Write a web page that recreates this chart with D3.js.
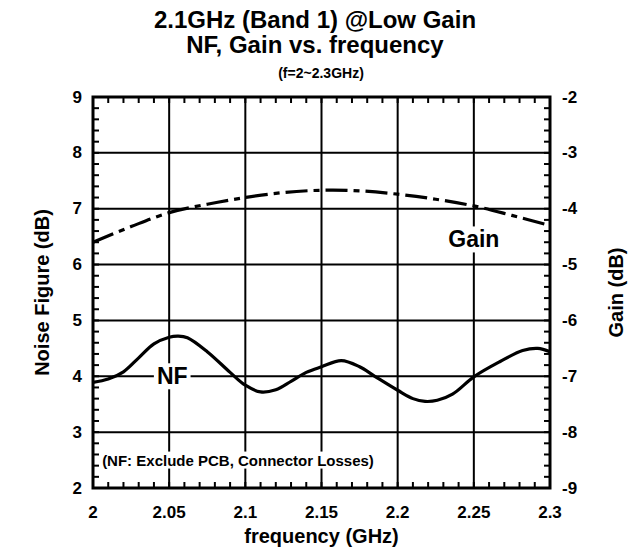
<!DOCTYPE html>
<html>
<head>
<meta charset="utf-8">
<script src="https://cdn.jsdelivr.net/npm/d3@7"></script>
<style>
  body { margin: 0; background: #fff; }
  text { font-family: "Liberation Sans", Arial, sans-serif; font-weight: bold; fill: #000; }
</style>
</head>
<body>
<div id="chart"></div>
<script>
// NF curve (left axis, dB)
const nfFreq = [2.000, 2.010, 2.020, 2.030, 2.040, 2.050, 2.056, 2.062, 2.075, 2.090,
                2.100, 2.110, 2.120, 2.130, 2.140, 2.150, 2.163, 2.175, 2.185, 2.200,
                2.210, 2.218, 2.226, 2.236, 2.250, 2.267, 2.282, 2.292, 2.300];
const nfVal = [3.89, 3.95, 4.08, 4.33, 4.58, 4.70, 4.72, 4.69, 4.44, 4.07,
               3.84, 3.72, 3.76, 3.91, 4.07, 4.17, 4.28, 4.17, 4.00, 3.75,
               3.60, 3.55, 3.57, 3.68, 3.99, 4.26, 4.46, 4.50, 4.44];

// Gain curve (right axis, dB)
const gainFreq = [2.000, 2.025, 2.050, 2.075, 2.100, 2.125, 2.150, 2.175, 2.200, 2.225, 2.250, 2.275, 2.300];
const gainVal = [-4.60, -4.32, -4.07, -3.92, -3.80, -3.71, -3.67, -3.68, -3.74, -3.83, -3.95, -4.12, -4.30];

const xTicks = [2, 2.05, 2.1, 2.15, 2.2, 2.25, 2.3];
const nfTicks = [2, 3, 4, 5, 6, 7, 8, 9];
const gainTicks = [-9, -8, -7, -6, -5, -4, -3, -2];

const width = 630, height = 555;
const margin = { top: 97, right: 80, bottom: 67, left: 93 };

const svg = d3.select("#chart").append("svg")
  .attr("width", width)
  .attr("height", height);

const x = d3.scaleLinear().domain([2, 2.3]).range([margin.left, width - margin.right]);
const yL = d3.scaleLinear().domain([2, 9]).range([height - margin.bottom, margin.top]);
const yR = d3.scaleLinear().domain([-9, -2]).range([height - margin.bottom, margin.top]);

const x0 = x.range()[0], x1 = x.range()[1];
const yb = yL.range()[0], yt = yL.range()[1];

// grid
const grid = svg.append("g").attr("stroke", "#000").attr("stroke-width", 2);
grid.selectAll(".vg").data(xTicks.slice(1, -1)).enter().append("line")
  .attr("x1", d => x(d)).attr("x2", d => x(d))
  .attr("y1", yt).attr("y2", yb);
grid.selectAll(".hg").data(nfTicks.slice(1, -1)).enter().append("line")
  .attr("x1", x0).attr("x2", x1)
  .attr("y1", d => yL(d)).attr("y2", d => yL(d));

// minor ticks, inside the frame
const minorX = d3.range(0, 31).map(i => 2 + i * 0.01);
const minorY = d3.range(0, 36).map(i => 2 + i * 0.2);
const ticks = svg.append("g").attr("stroke", "#000").attr("stroke-width", 2);
ticks.selectAll(".tb").data(minorX).enter().append("line")
  .attr("x1", d => x(d)).attr("x2", d => x(d)).attr("y1", yb).attr("y2", yb - 6);
ticks.selectAll(".tt").data(minorX).enter().append("line")
  .attr("x1", d => x(d)).attr("x2", d => x(d)).attr("y1", yt).attr("y2", yt + 6);
ticks.selectAll(".tl").data(minorY).enter().append("line")
  .attr("x1", x0).attr("x2", x0 + 6).attr("y1", d => yL(d)).attr("y2", d => yL(d));
ticks.selectAll(".tr").data(minorY).enter().append("line")
  .attr("x1", x1).attr("x2", x1 - 6).attr("y1", d => yL(d)).attr("y2", d => yL(d));

// curves
const nfLine = d3.line().x((d, i) => x(nfFreq[i])).y(d => yL(d)).curve(d3.curveCatmullRom);
svg.append("path").datum(nfVal)
  .attr("d", nfLine)
  .attr("fill", "none").attr("stroke", "#000").attr("stroke-width", 3.2);

const gainLine = d3.line().x((d, i) => x(gainFreq[i])).y(d => yR(d)).curve(d3.curveCatmullRom);
svg.append("path").datum(gainVal)
  .attr("d", gainLine)
  .attr("fill", "none").attr("stroke", "#000").attr("stroke-width", 3.2)
  .attr("stroke-dasharray", "22,6,6,6");

// frame
svg.append("rect")
  .attr("x", x0).attr("y", yt).attr("width", x1 - x0).attr("height", yb - yt)
  .attr("fill", "none").attr("stroke", "#000").attr("stroke-width", 3);

// in-plot labels with white boxes
function boxLabel(tx, ty, str, size, anchor) {
  const t = svg.append("text").attr("x", tx).attr("y", ty)
    .attr("text-anchor", anchor).attr("dominant-baseline", "central")
    .style("font-size", size + "px").text(str);
  const b = t.node().getBBox();
  svg.insert("rect", "text:last-of-type")
    .attr("x", b.x - 3).attr("y", b.y).attr("width", b.width + 6).attr("height", b.height)
    .attr("fill", "#fff");
  t.raise();
}
boxLabel(x(2.25), yR(-4.55), "Gain", 23, "middle");
boxLabel(x(2.052), yL(4.0), "NF", 23, "middle");
boxLabel(x(2.006), yL(2.5), "(NF: Exclude PCB, Connector Losses)", 15, "start");

// tick labels
svg.selectAll(".xl").data(xTicks).enter().append("text")
  .attr("x", d => x(d)).attr("y", yb + 30)
  .attr("text-anchor", "middle").style("font-size", "17px")
  .text(d => d);
svg.selectAll(".yl").data(nfTicks).enter().append("text")
  .attr("x", x0 - 11).attr("y", d => yL(d)).attr("dominant-baseline", "central")
  .attr("text-anchor", "end").style("font-size", "17px")
  .text(d => d);
svg.selectAll(".yr").data(gainTicks).enter().append("text")
  .attr("x", x1 + 12).attr("y", d => yR(d)).attr("dominant-baseline", "central")
  .attr("text-anchor", "start").style("font-size", "17px")
  .text(d => d);

// titles
svg.append("text").attr("x", 315).attr("y", 28).attr("text-anchor", "middle")
  .style("font-size", "24px").text("2.1GHz (Band 1) @Low Gain");
svg.append("text").attr("x", 315).attr("y", 53).attr("text-anchor", "middle")
  .style("font-size", "24px").text("NF, Gain vs. frequency");
svg.append("text").attr("x", 321).attr("y", 78).attr("text-anchor", "middle")
  .style("font-size", "14px").text("(f=2~2.3GHz)");

svg.append("text").attr("x", (x0 + x1) / 2).attr("y", 543).attr("text-anchor", "middle")
  .style("font-size", "20px").text("frequency (GHz)");
svg.append("text")
  .attr("transform", "translate(49," + (yt + yb) / 2 + ") rotate(-90)")
  .attr("text-anchor", "middle").style("font-size", "20px").text("Noise Figure (dB)");
svg.append("text")
  .attr("transform", "translate(623," + (yt + yb) / 2 + ") rotate(-90)")
  .attr("text-anchor", "middle").style("font-size", "20px").text("Gain (dB)");
</script>
</body>
</html>
